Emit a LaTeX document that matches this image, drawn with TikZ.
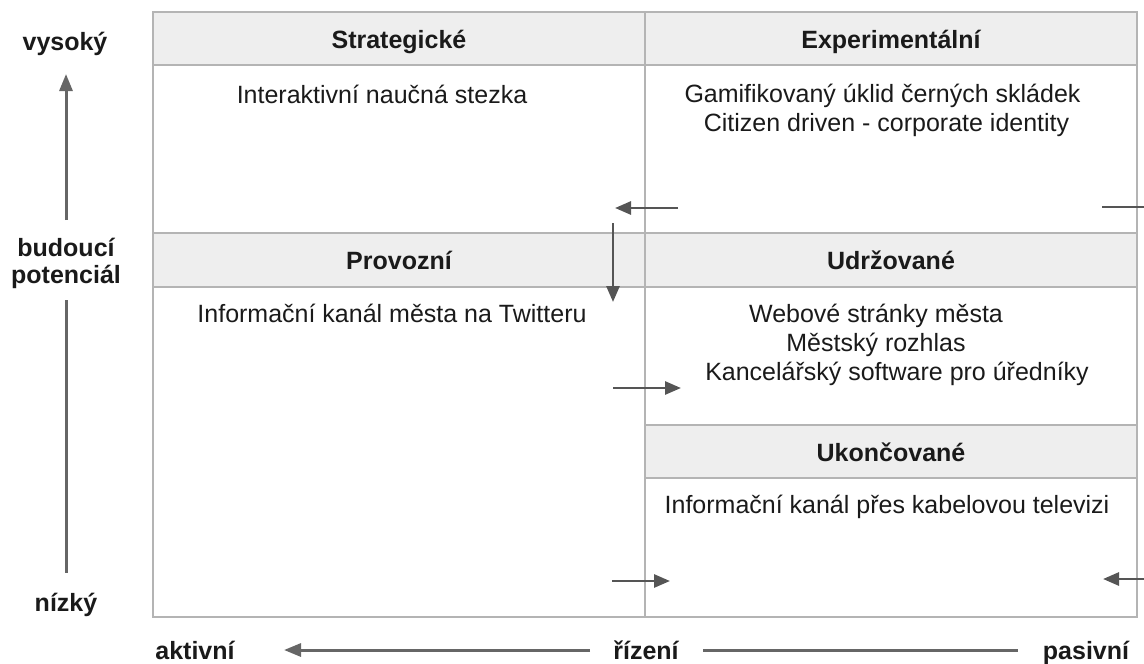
\documentclass[tikz,border=0pt]{standalone}
\usepackage{fontspec}
\setmainfont{Liberation Sans}
\usetikzlibrary{arrows.meta}
\definecolor{gridgray}{HTML}{B4B4B4}
\definecolor{headfill}{HTML}{EEEEEE}
\definecolor{arrowgray}{HTML}{555555}
\definecolor{axisgray}{HTML}{666666}
\definecolor{inkc}{HTML}{1A1A1A}
\tikzset{
  cellline/.style={draw=gridgray, line width=1.6pt},
  hdr/.style={cellline, fill=headfill, inner sep=0pt, text height=19pt, text depth=0pt,
    font=\fontsize{25}{29}\selectfont\bfseries, text=inkc},
  body/.style={anchor=base, inner sep=0pt, font=\fontsize{25}{29}\selectfont, text=inkc},
  axislabel/.style={anchor=base, inner sep=0pt, font=\fontsize{25}{28}\selectfont\bfseries, text=inkc, align=center},
  flow/.style={draw=arrowgray, line width=2.8pt, -{Triangle[length=16pt,width=13pt]}},
  flowline/.style={draw=arrowgray, line width=2.8pt},
  axis/.style={draw=axisgray, line width=3pt},
  axisarrow/.style={axis, -{Triangle[length=17pt,width=13pt]}},
}
\begin{document}
\begin{tikzpicture}[x=1pt, y=-1pt]
\useasboundingbox (0,0) rectangle (1144,664);
\clip (0,0) rectangle (1144,664);

% frame and column body cells
\node[cellline, minimum width=492pt, minimum height=168pt, inner sep=0pt] (stratbody) at (399,149) {};
\node[cellline, minimum width=492pt, minimum height=168pt, inner sep=0pt] (expbody) at (891,149) {};
\node[cellline, minimum width=492pt, minimum height=330pt, inner sep=0pt] (provbody) at (399,452) {};
\node[cellline, minimum width=492pt, minimum height=138pt, inner sep=0pt] (udrzbody) at (891,356) {};
\node[cellline, minimum width=492pt, minimum height=139pt, inner sep=0pt] (ukonbody) at (891,547.5) {};

% header cells
\node[hdr, minimum width=492pt, minimum height=53pt] (strat) at (399,38.5) {Strategické};
\node[hdr, minimum width=492pt, minimum height=53pt] (exp) at (891,38.5) {Experimentální};
\node[hdr, minimum width=492pt, minimum height=54pt] (prov) at (399,260) {Provozní};
\node[hdr, minimum width=492pt, minimum height=54pt] (udrz) at (891,260) {Udržované};
\node[hdr, minimum width=492pt, minimum height=53pt] (ukon) at (891,451.5) {Ukončované};

% cell contents
\node[body] (t1) at (382,103) {Interaktivní naučná stezka};
\node[body] (t2) at (882.5,102) {Gamifikovaný úklid černých skládek};
\node[body] (t3) at (886.5,131) {Citizen driven - corporate identity};
\node[body] (t4) at (392,322) {Informační kanál města na Twitteru};
\node[body] (t5) at (876,322) {Webové stránky města};
\node[body] (t6) at (876,351) {Městský rozhlas};
\node[body] (t7) at (897,380) {Kancelářský software pro úředníky};
\node[body] (t8) at (887,513) {Informační kanál přes kabelovou televizi};

% transition arrows between quadrants
\coordinate (a1s) at (678,208);  \coordinate (a1e) at (615,208);
\coordinate (a2s) at (613,223);  \coordinate (a2e) at (613,302);
\coordinate (a3s) at (613,388);  \coordinate (a3e) at (681,388);
\coordinate (a4s) at (612,581);  \coordinate (a4e) at (670,581);
\coordinate (a5s) at (1102,207); \coordinate (a5e) at (1150,207);
\coordinate (a6s) at (1150,579); \coordinate (a6e) at (1103,579);
\draw[flow] (a1s) -- (a1e);
\draw[flow] (a2s) -- (a2e);
\draw[flow] (a3s) -- (a3e);
\draw[flow] (a4s) -- (a4e);
\draw[flowline] (a5s) -- (a5e);
\draw[flow] (a6s) -- (a6e);

% vertical axis
\node[axislabel] (high) at (65,50) {vysoký};
\node[axislabel] (pot) at (66,283) {budoucí\\[-1pt]potenciál};
\node[axislabel] (low) at (66,611) {nízký};
\coordinate (v1) at (66,220); \coordinate (v2) at (66,74);
\coordinate (v3) at (66,300); \coordinate (v4) at (66,573);
\draw[axisarrow] (v1) -- (v2);
\draw[axis] (v3) -- (v4);

% horizontal axis
\node[axislabel] (act) at (195,659) {aktivní};
\node[axislabel] (ctrl) at (646,659) {řízení};
\node[axislabel] (pas) at (1086,659) {pasivní};
\coordinate (h1) at (590,650); \coordinate (h2) at (284,650);
\coordinate (h3) at (703,650); \coordinate (h4) at (1018,650);
\draw[axisarrow] (h1) -- (h2);
\draw[axis] (h3) -- (h4);
\end{tikzpicture}
\end{document}
